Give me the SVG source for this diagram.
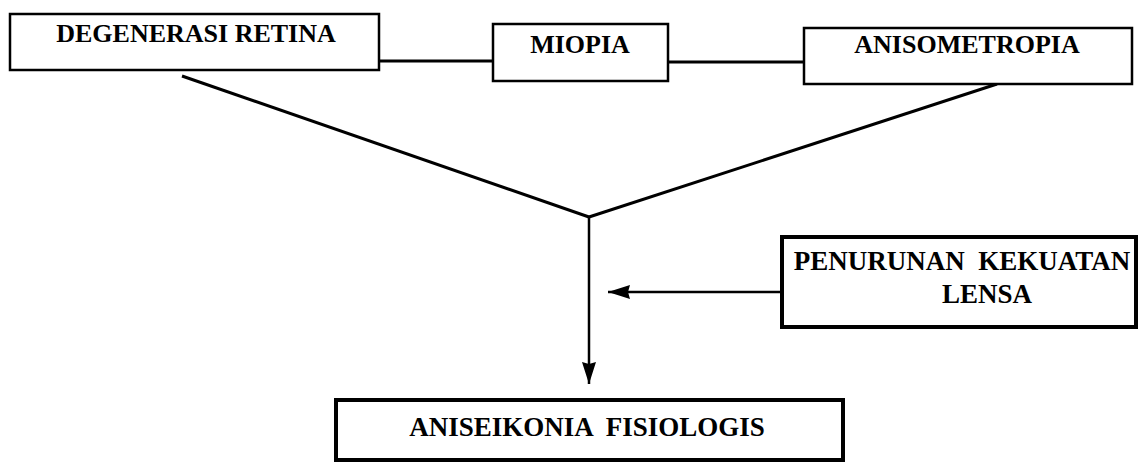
<svg xmlns="http://www.w3.org/2000/svg" width="1139" height="462" viewBox="0 0 1139 462">
<style>
.box{fill:#fff;stroke:#000;stroke-width:2.5}
.thick{fill:#fff;stroke:#000;stroke-width:4}
.t{font-family:"Liberation Serif","Times New Roman",serif;font-weight:bold;fill:#000;text-anchor:middle}
.ln{stroke:#000;stroke-width:3;fill:none}
.ar{stroke:#000;stroke-width:2.5;fill:none}
</style>
<defs>
<marker id="ah" viewBox="0 0 22 14" refX="22" refY="7" markerWidth="22" markerHeight="14" markerUnits="userSpaceOnUse" orient="auto">
<path d="M0,0 L22,7 L0,14 L2,7 Z" fill="#000"/>
</marker>
</defs>
<rect width="1139" height="462" fill="#fff"/>
<g id="connectors">
<line class="ln" x1="379" y1="61" x2="493" y2="61"/>
<line class="ln" x1="668" y1="62" x2="804" y2="62"/>
<line class="ln" x1="182" y1="76" x2="589" y2="217"/>
<line class="ln" x1="997" y1="84" x2="589" y2="217"/>
<line class="ar" x1="589" y1="216" x2="589" y2="384" marker-end="url(#ah)"/>
<line class="ar" x1="782" y1="292" x2="608" y2="292" marker-end="url(#ah)"/>
</g>
<g id="degenerasi-retina">
<rect class="box" x="10" y="14" width="369" height="56"/>
<text class="t" x="196" y="42" font-size="26">DEGENERASI RETINA</text>
</g>
<g id="miopia">
<rect class="box" x="493" y="24" width="175" height="57"/>
<text class="t" x="580" y="53" font-size="26">MIOPIA</text>
</g>
<g id="anisometropia">
<rect class="box" x="804" y="28" width="328" height="56"/>
<text class="t" x="967" y="53" font-size="26">ANISOMETROPIA</text>
</g>
<g id="penurunan-kekuatan-lensa">
<rect class="thick" x="782" y="237" width="354" height="90"/>
<text class="t" x="962" y="270" font-size="27" xml:space="preserve">PENURUNAN  KEKUATAN</text>
<text class="t" x="987" y="303" font-size="27">LENSA</text>
</g>
<g id="aniseikonia-fisiologis">
<rect class="thick" x="336" y="400" width="507" height="60"/>
<text class="t" x="587" y="436" font-size="27" xml:space="preserve">ANISEIKONIA  FISIOLOGIS</text>
</g>
</svg>
